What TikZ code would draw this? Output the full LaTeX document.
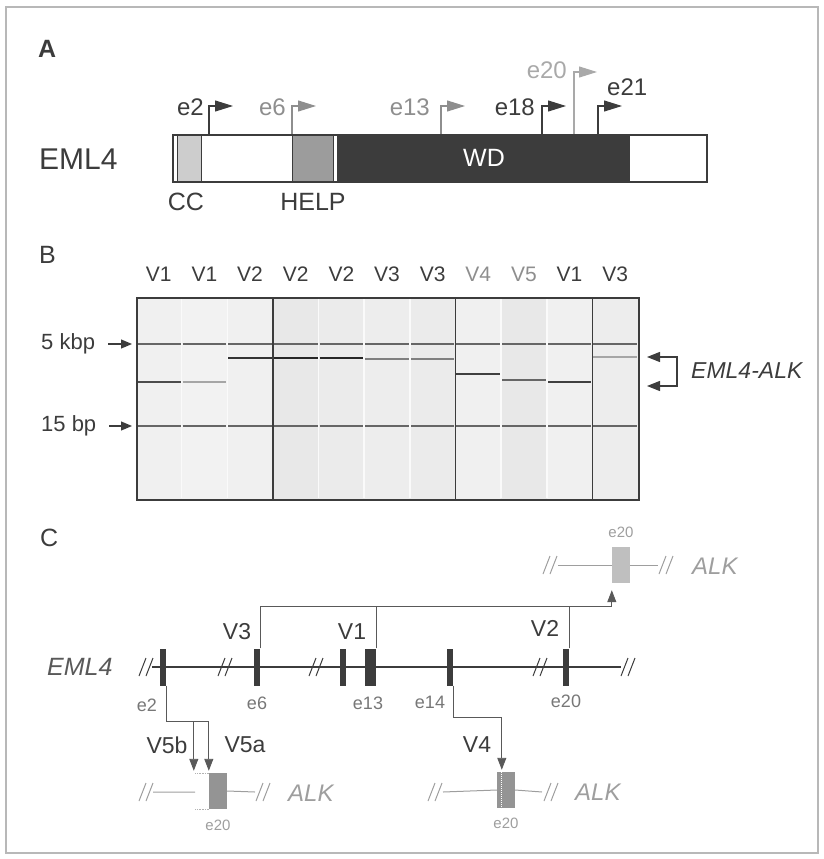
\documentclass[tikz,border=0pt]{standalone}
\usepackage{fontspec}
\setmainfont{Liberation Sans}
\usetikzlibrary{arrows.meta, positioning, calc}
\definecolor{ink}{HTML}{3C3C3C}
\definecolor{midgray}{HTML}{8E8E8E}
\definecolor{palegray}{HTML}{A9A9A9}
\definecolor{ccfill}{HTML}{CDCDCD}
\definecolor{helpfill}{HTML}{9C9C9C}
\definecolor{alkgray}{HTML}{9E9E9E}
\definecolor{framegray}{HTML}{B8B8B8}

\begin{document}
\begin{tikzpicture}[
    x=1pt, y=-1pt,
    panel/.style={font=\fontsize{25}{28}\selectfont, text=ink, anchor=west, inner sep=0pt},
    txt/.style={font=\fontsize{25}{28}\selectfont, text=ink, inner sep=0pt},
    exname/.style={font=\fontsize{24}{28}\selectfont, inner sep=0pt, anchor=base east},
    tss/.style={-{Triangle[length=18pt, width=11pt]}, line width=1.1pt},
    lanelbl/.style={font=\fontsize{21}{24}\selectfont, inner sep=0pt},
    sizelbl/.style={font=\fontsize{22}{24}\selectfont, text=ink, inner sep=0pt, anchor=west},
    sizearrow/.style={-{Triangle[length=11pt, width=9pt]}, line width=1.2pt, ink},
    exon/.style={rectangle, fill=ink, inner sep=0pt, minimum width=6pt, minimum height=37pt},
    exlbl/.style={font=\fontsize{18}{20}\selectfont, text=ink!70, inner sep=0pt},
    vlbl/.style={font=\fontsize{23}{26}\selectfont, text=ink, inner sep=0pt},
    conn/.style={line width=0.9pt, ink!85},
    tip/.style={-{Triangle[length=12pt, width=9pt]}},
    alkbox/.style={rectangle, inner sep=0pt, minimum width=18pt, minimum height=36pt},
    alktxt/.style={font=\fontsize{24}{28}\selectfont\itshape, text=alkgray, inner sep=0pt, anchor=west},
    smalllbl/.style={font=\fontsize{15}{17}\selectfont, text=alkgray, inner sep=0pt},
    slash/.pic={\draw[line width=1pt] (-7,9) -- (0,-9) (0,9) -- (7,-9);},
]
\useasboundingbox (0,0) rectangle (824,859);
\draw[framegray, line width=1.2pt] (6,7) rectangle (818,853);

% Panel A: protein
\node[panel, font=\fontsize{25}{28}\selectfont\bfseries] (labA) at (38,49) {A};
\node[txt, anchor=west, font=\fontsize{30}{34}\selectfont] (emlA) at (39,159) {EML4};
\fill[ccfill] (177,134) rectangle (201,181);
\draw[ink, line width=1pt] (177,134) -- (177,181) (201,134) -- (201,181);
\filldraw[fill=helpfill, draw=ink, line width=1pt] (292,134) rectangle (333,181);
\fill[ink] (337,134) rectangle (630,181);
\node[draw=ink, line width=1.5pt, inner sep=0pt, minimum width=534pt, minimum height=47pt, anchor=north west] (bar) at (172,134) {};
\node[txt, text=white] (wd) at (484,158) {WD};
\node[txt] (cc) at (186,202) {CC};
\node[txt] (help) at (313,202) {HELP};

% breakpoints on the protein
\foreach \nm/\sx/\col in {2/209/ink, 6/292/midgray, 13/441/midgray, 18/542/ink, 21/598/ink}{
  \coordinate (s\nm) at (\sx,134);
  \draw[tss, \col] (s\nm) |- ++(24,-28);
}
\coordinate (s20) at (574,134);
\draw[tss, palegray] (s20) |- ++(23,-62);
\node[exname, text=ink] (e2) at (204,115) {e2};
\node[exname, text=midgray] (e6) at (286,115) {e6};
\node[exname, text=midgray] (e13) at (430,115) {e13};
\node[exname, text=ink] (e18) at (535,115) {e18};
\node[exname, text=palegray] (e20) at (567,78) {e20};
\node[exname, anchor=base west, text=ink] (e21) at (607,95) {e21};

% Panel B: gel
\node[panel] (labB) at (39,255) {B};
\foreach \lab/\lc/\sh/\by/\bi [count=\i] in {V1/ink/6/382/70, V1/ink/5/382/35, V2/ink/6/358/80,
    V2/ink/9/358/85, V2/ink/8/358/85, V3/ink/7/359/50, V3/ink/8/359/50, V4/midgray/6/374/75,
    V5/midgray/9/380/60, V1/ink/6/382/75, V3/ink/7/357/35}{
  \pgfmathsetmacro\xl{136+45.64*(\i-1)}
  \fill[black!\sh] (\xl,297) rectangle ({\xl+45.64},499);
  \draw[line width=1.4pt, black!60] ({\xl+1},344) -- ({\xl+44.6},344);
  \draw[line width=1.4pt, black!60] ({\xl+1},426) -- ({\xl+44.6},426);
  \draw[line width=1.6pt, black!\bi] ({\xl+1},\by) -- ({\xl+44.6},\by);
  \node[lanelbl, text=\lc] (lane\i) at ({\xl+22.8},274) {\lab};
}
\foreach \k in {1,2,4,5,6,8,9}
  \draw[white!75!black!8, line width=1.5pt] ({136+45.64*\k},298) -- ({136+45.64*\k},498);
\foreach \k in {3,7,10}
  \draw[ink, line width=1.2pt] ({136+45.64*\k},297) -- ({136+45.64*\k},499);
\node[draw=ink, line width=1.5pt, inner sep=0pt, minimum width=502pt, minimum height=202pt, anchor=north west] (gel) at (136,297) {};

\node[sizelbl] (kbp) at (41,344) {5 kbp};
\node[sizelbl] (bp) at (41,426) {15 bp};
\draw[sizearrow, shorten >=4pt] ([xshift=13pt]kbp.east) -- (gel.west |- kbp.east);
\draw[sizearrow, shorten >=4pt] ([xshift=13pt]bp.east) -- (gel.west |- bp.east);

\node[sizelbl, font=\fontsize{23}{26}\selectfont\itshape] (fus) at (691,371) {EML4-ALK};
\coordinate (fa) at (647,357);
\coordinate (fb) at (647,386);
\draw[sizearrow, {Triangle[length=13pt, width=10pt]}-{Triangle[length=13pt, width=10pt]}]
    (fa) -- ++(30,0) |- (fb);

% Panel C: genomic fusions
\node[panel] (labC) at (40,538) {C};
\node[txt, anchor=west, font=\fontsize{25}{28}\selectfont\itshape, text=ink!85] (emlC) at (47,667) {EML4};
\draw[ink, line width=1.6pt] (152,667) -- (621,667);
\foreach \bx in {146,225,316,540,628}
  \pic[ink] at (\bx,667) {slash};

\node[exon] (x2) at (163,667) {};
\node[exon] (x6) at (257,667) {};
\node[exon] (x12) at (343,667) {};
\node[exon, minimum width=11pt] (x13) at (370.5,667) {};
\node[exon] (x14) at (450,667) {};
\node[exon] (x20) at (566,667) {};
\node[exlbl] (l2) at (147,705) {e2};
\node[exlbl] (l6) at (257,703) {e6};
\node[exlbl] (l13) at (368,703) {e13};
\node[exlbl] (l14) at (430,702) {e14};
\node[exlbl] (l20) at (566,701) {e20};

% ALK, top
\node[alkbox, fill=black!25] (aT) at (621,565) {};
\draw[alkgray, line width=1pt] (558,565) -- (aT.west) (aT.east) -- (658,565);
\pic[alkgray] at (550,565) {slash};
\pic[alkgray] at (666,565) {slash};
\node[smalllbl] (aTl) at (621,532) {e20};
\node[alktxt] (aTn) at (692,566) {ALK};

\coordinate (jn) at ([yshift=-23pt]aT.south west);
\draw[conn] (x6.north east) |- (jn);
\draw[conn] (x13.north east) |- (jn);
\draw[conn] (x20.north east) |- (jn);
\draw[conn, tip] (jn) -- ([yshift=-7pt]aT.south west);
\node[vlbl] (v3) at (237,632) {V3};
\node[vlbl] (v1) at (352,632) {V1};
\node[vlbl] (v2) at (545,628) {V2};

% ALK, bottom left (V5a/V5b)
\node[alkbox, fill=black!42] (aL) at (218,791) {};
\draw[alkgray, line width=1pt] (153,792) -- (195,792) (aL.east) -- (255,792);
\draw[densely dotted, black!30, line width=0.6pt] (aL.north west) -- ++(-14,0) (aL.south west) -- ++(-14,0);
\pic[alkgray] at (146,792) {slash};
\pic[alkgray] at (263,792) {slash};
\node[alktxt] (aLn) at (288,793) {ALK};
\node[smalllbl] (aLl) at (218,825) {e20};

\coordinate (v5j) at ([yshift=51pt]aL.north west);
\draw[conn, tip] (x2.south east) |- (v5j) -- ([yshift=2pt]aL.north west);
\draw[conn, tip] ([xshift=-15pt]v5j) -- ([xshift=-15pt, yshift=2pt]aL.north west);
\node[vlbl] (v5b) at (167,745) {V5b};
\node[vlbl] (v5a) at (245,745) {V5a};

% ALK, bottom right (V4)
\node[alkbox, fill=black!42] (aR) at (506,790) {};
\draw[alkgray, line width=1pt] (443,792) -- (aR.west) (aR.east) -- (542,792);
\draw[white, densely dotted, line width=1pt] ([xshift=5pt]aR.north west) -- ([xshift=5pt]aR.south west);
\pic[alkgray] at (435,792) {slash};
\pic[alkgray] at (551,792) {slash};
\node[alktxt] (aRn) at (575,792) {ALK};
\node[smalllbl] (aRl) at (506,823) {e20};

\coordinate (v4j) at ([xshift=5pt, yshift=54pt]aR.north west);
\draw[conn, tip] (x14.south east) |- (v4j) -- ([xshift=5pt, yshift=2pt]aR.north west);
\node[vlbl] (v4) at (477,745) {V4};
\end{tikzpicture}
\end{document}
